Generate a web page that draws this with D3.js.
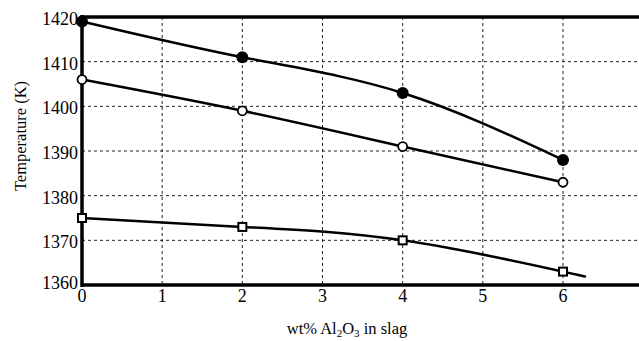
<!DOCTYPE html>
<html><head><meta charset="utf-8">
<script src="https://cdn.jsdelivr.net/npm/d3@7"></script>
<style>body{margin:0;background:#fff}svg{display:block}</style>
</head><body><svg id="c" width="639" height="341" font-family="Liberation Serif, DejaVu Serif, serif"></svg>
<script>
const xTicks = [0,1,2,3,4,5,6];
const yTicks = [1360,1370,1380,1390,1400,1410,1420];
const xVals = [0,2,4,6];
const filledSeries = [1419,1411,1403,1388];
const openSeries = [1406,1399,1391,1383];
const squareSeries = [1375,1373,1370,1363];
const squareFitX = [0,2,4,6,6.18];
const squareFitY = [1375,1373,1370,1363,1362.3];

const svg = d3.select("#c");
const x = d3.scaleLinear().domain([0,6]).range([82,563]);
const y = d3.scaleLinear().domain([1360,1420]).range([285,17]);
const right = 639;

// grid
svg.append("g").selectAll("line").data(xTicks.filter(d=>d>0)).join("line")
  .attr("x1",d=>x(d)).attr("x2",d=>x(d)).attr("y1",17).attr("y2",285)
  .attr("stroke","#222").attr("stroke-width",1).attr("stroke-dasharray","3,3");
svg.append("g").selectAll("line").data(yTicks.filter(d=>d>1360&&d<1420)).join("line")
  .attr("x1",82).attr("x2",right).attr("y1",d=>y(d)).attr("y2",d=>y(d))
  .attr("stroke","#222").attr("stroke-width",1).attr("stroke-dasharray","3,3");

// frame
svg.append("line").attr("x1",82).attr("x2",right).attr("y1",y(1420)).attr("y2",y(1420)).attr("stroke","#000").attr("stroke-width",3.5);
svg.append("line").attr("x1",82).attr("x2",right).attr("y1",y(1360)).attr("y2",y(1360)).attr("stroke","#000").attr("stroke-width",3.5);
svg.append("line").attr("x1",x(0)).attr("x2",x(0)).attr("y1",15).attr("y2",287).attr("stroke","#000").attr("stroke-width",3.5);

// tick labels
svg.append("g").selectAll("text").data(yTicks).join("text")
  .attr("x",78).attr("y",d=>y(d)+ (d===1360?4:8)).attr("text-anchor","end")
  .attr("font-size",18).text(d=>d);
svg.append("g").selectAll("text").data(xTicks).join("text")
  .attr("x",d=>x(d)).attr("y",302).attr("text-anchor","middle")
  .attr("font-size",18).text(d=>d);

// axis titles
svg.append("text").attr("transform","translate(26,136) rotate(-90)").attr("text-anchor","middle")
  .attr("font-size",16.5).text("Temperature (K)");
const xt = svg.append("text").attr("x",347).attr("y",334).attr("text-anchor","middle").attr("font-size",16.5);
xt.append("tspan").text("wt% Al");
xt.append("tspan").attr("font-size",11).attr("dy",3).text("2");
xt.append("tspan").attr("dy",-3).text("O");
xt.append("tspan").attr("font-size",11).attr("dy",3).text("3");
xt.append("tspan").attr("dy",-3).text(" in slag");

// lines
const line = d3.line().x(d=>x(d[0])).y(d=>y(d[1])).curve(d3.curveNatural);
const draw = (xs,ys)=>svg.append("path").attr("d",line(xs.map((v,i)=>[v,ys[i]])))
  .attr("fill","none").attr("stroke","#000").attr("stroke-width",2.5);
draw(xVals,filledSeries);
draw(xVals,openSeries);
draw(squareFitX,squareFitY);

// markers
svg.append("g").selectAll("circle").data(xVals).join("circle")
  .attr("cx",d=>x(d)).attr("cy",(d,i)=>y(filledSeries[i])).attr("r",6).attr("fill","#000");
svg.append("g").selectAll("circle").data(xVals).join("circle")
  .attr("cx",d=>x(d)).attr("cy",(d,i)=>y(openSeries[i])).attr("r",4.5).attr("fill","#fff")
  .attr("stroke","#000").attr("stroke-width",1.8);
svg.append("g").selectAll("rect").data(xVals).join("rect")
  .attr("x",d=>x(d)-4).attr("y",(d,i)=>y(squareSeries[i])-4).attr("width",8).attr("height",8)
  .attr("fill","#fff").attr("stroke","#000").attr("stroke-width",2);
</script></body></html>
